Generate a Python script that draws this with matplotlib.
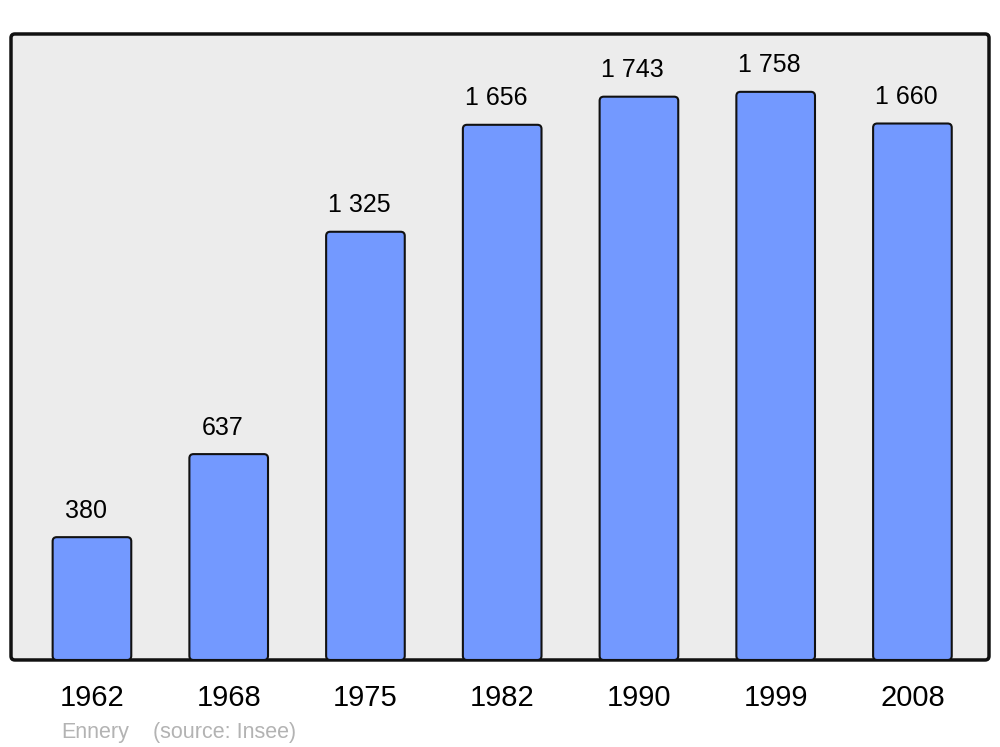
import matplotlib
matplotlib.use("Agg")
import matplotlib.pyplot as plt
from matplotlib.patches import FancyBboxPatch

years = ["1962", "1968", "1975", "1982", "1990", "1999", "2008"]
population = [380, 637, 1325, 1656, 1743, 1758, 1660]
value_labels = ["380", "637", "1 325", "1 656", "1 743", "1 758", "1 660"]
town = "Ennery"
source = "(source: Insee)"

plt.rcParams["font.family"] = ["Liberation Sans", "DejaVu Sans"]

fig = plt.figure(figsize=(10, 7.47), dpi=100)
ax = fig.add_axes([0.011, 0.1165, 0.978, 0.838])
ax.set_facecolor("none")

x_min, x_max = -0.592, 6.56
y_max = 1937
ax.set_xlim(x_min, x_max)
ax.set_ylim(0, y_max)

# background panel with rounded corners
panel = FancyBboxPatch((0, 0), 1, 1, boxstyle="round,pad=0,rounding_size=0.004",
                       transform=ax.transAxes, facecolor="#ececec",
                       edgecolor="#111111", linewidth=2.5, clip_on=False,
                       mutation_aspect=978 / 626, zorder=0)
ax.add_patch(panel)

# bars with rounded top corners
bar_width = 0.575
aspect = (y_max / 626) / ((x_max - x_min) / 978)
bars = ax.bar(range(len(years)), population, width=bar_width)
for rect in bars:
    rect.set_visible(False)
    patch = FancyBboxPatch((rect.get_x(), 0), rect.get_width(), rect.get_height(),
                           boxstyle="round,pad=0,rounding_size=0.03",
                           mutation_aspect=aspect, facecolor="#7399ff",
                           edgecolor="#111111", linewidth=1.5, zorder=2)
    ax.add_patch(patch)

for i, (v, lab) in enumerate(zip(population, value_labels)):
    ax.annotate(lab, (i, v), xytext=(-4.5, 19), textcoords="offset points",
                ha="center", va="center", fontsize=18, color="#000000")

ax.set_xticks(range(len(years)))
ax.set_xticklabels(years, fontsize=21)
ax.tick_params(axis="x", length=0, pad=17)
ax.set_yticks([])
for s in ax.spines.values():
    s.set_visible(False)

fig.text(0.061, 0.020, town, fontsize=15.5, color="#b3b3b3", ha="left", va="center")
fig.text(0.153, 0.020, source, fontsize=15.5, color="#b3b3b3", ha="left", va="center")

fig.savefig("out.png", dpi=100)
